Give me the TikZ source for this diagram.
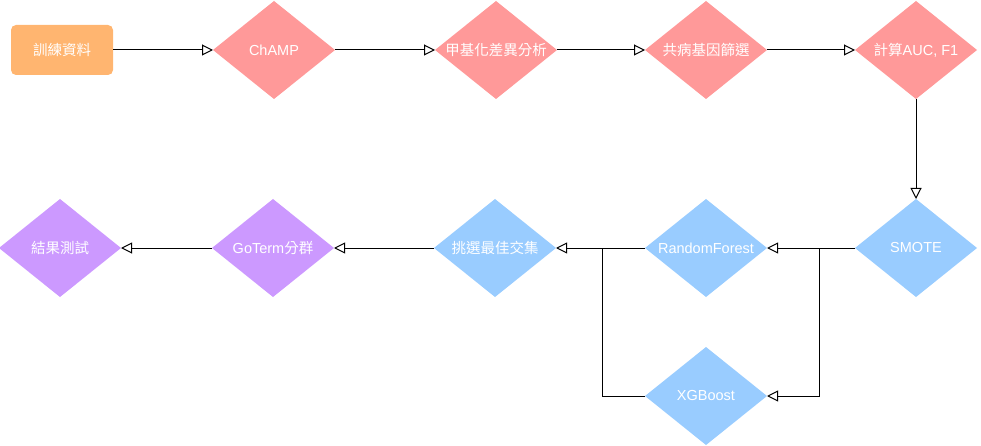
\documentclass[tikz,border=0pt]{standalone}
\usepackage{fontspec}
\setmainfont{Liberation Sans}
\newfontfamily\cjk{Noto Sans CJK TC}
\usetikzlibrary{positioning,shapes.geometric,arrows.meta}
\definecolor{stepred}{HTML}{FF9999}
\definecolor{stepblue}{HTML}{99CCFF}
\definecolor{steppurple}{HTML}{CC99FF}
\definecolor{steporange}{HTML}{FFB570}

\begin{document}
\begin{tikzpicture}[x=1pt, y=-1pt,
labeltext/.style={text=white, font=\fontsize{14.5}{17}\selectfont},
dianode/.style={diamond, draw=none, minimum width=122pt, minimum height=98pt, inner sep=0pt, outer sep=0pt},
pinknode/.style={dianode, fill=stepred},
bluenode/.style={dianode, fill=stepblue},
purplenode/.style={dianode, fill=steppurple},
startnode/.style={rectangle, rounded corners=5pt, fill=steporange, minimum width=102pt, minimum height=50pt, inner sep=0pt, outer sep=0pt, labeltext},
flowarrow/.style={-{Triangle[open, length=11pt, width=11pt]}, line width=1pt},
]
\useasboundingbox (0,0) rectangle (981,446);
%Nodes
\node[startnode] (train) at (62,50) {\cjk 訓練資料};
\node[pinknode, label={[labeltext]center:ChAMP}] (champ) [right=100pt of train] {};
\node[pinknode, label={[labeltext]center:{\cjk 甲基化差異分析}}] (meth) [right=100pt of champ] {};
\node[pinknode, label={[labeltext]center:{\cjk 共病基因篩選}}] (comorb) [right=88pt of meth] {};
\node[pinknode, label={[labeltext]center:{{\cjk 計算}AUC, F1}}] (auc) [right=88pt of comorb] {};

\node[bluenode, label={[labeltext]center:SMOTE}] (smote) [below=100pt of auc] {};
\node[bluenode, label={[labeltext]center:RandomForest}] (rf) [left=88pt of smote] {};
\node[bluenode, label={[labeltext]center:XGBoost}] (xgb) [below=50pt of rf] {};
\node[bluenode, label={[labeltext]center:{\cjk 挑選最佳交集}}] (pick) [left=89pt of rf] {};
\node[purplenode, label={[labeltext]center:{GoTerm{\cjk 分群}}}] (goterm) [left=100pt of pick] {};
\node[purplenode, label={[labeltext]center:{\cjk 結果測試}}] (result) [left=91pt of goterm] {};

\coordinate (splitR) at (819,248);
\coordinate (splitL) at (602,248);

%Lines
\draw[flowarrow] (train) -- (champ);
\draw[flowarrow] (champ) -- (meth);
\draw[flowarrow] (meth) -- (comorb);
\draw[flowarrow] (comorb) -- (auc);
\draw[flowarrow] (auc) -- (smote);
\draw[flowarrow] (smote) -- (rf);
\draw[flowarrow] (smote.west) -- (splitR) |- (xgb.east);
\draw[flowarrow] (rf) -- (pick);
\draw[line width=1pt] (xgb.west) -| (splitL);
\draw[flowarrow] (pick) -- (goterm);
\draw[flowarrow] (goterm) -- (result);
\end{tikzpicture}
\end{document}
